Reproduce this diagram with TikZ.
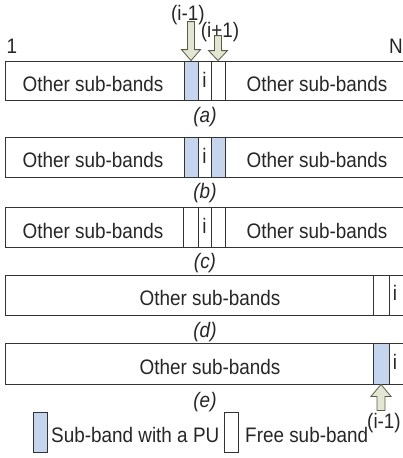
\documentclass[tikz,border=0pt]{standalone}
\usepackage{fontspec}
\setmainfont[FakeStretch=0.9]{Liberation Sans}
\usetikzlibrary{fit}
\definecolor{pu}{HTML}{C6D5EE}
\definecolor{arrowfill}{HTML}{E2E6D3}
\definecolor{arrowline}{HTML}{5A5D45}
\definecolor{edge}{HTML}{333333}
\begin{document}
\begin{tikzpicture}[x=1pt,y=-1pt,
  band/.style={draw=edge, line width=0.8pt, inner sep=0pt},
  freecell/.style={band, fill=white},
  pucell/.style={band, fill=pu},
  lbl/.style={font=\fontsize{21}{24}\selectfont, inner sep=0pt, text=black!85},
  captext/.style={font=\fontsize{21}{24}\selectfont\itshape, inner sep=0pt, text=black!85},
  blockarrow/.style={fill=arrowfill, draw=arrowline, line width=0.8pt, line join=miter}]
\useasboundingbox (0,0) rectangle (403,458);
\clip (0,0) rectangle (403,458);

% band edge labels
\node[lbl] (one) at (12,46) {1};
\node[lbl] (bigN) at (396,46) {N};

% ---- row (a)
\node[band, fit={(5,61) (410,100)}] (rowa) {};
\node[pucell, fit={(184,61) (198,100)}] (apu) {};
\node[freecell, fit={(198,61) (211,100)}] (ai) {};
\node[freecell, fit={(211,61) (225,100)}] (afree) {};
\node[lbl, anchor=base] (atl) at (93,91) {Other sub-bands};
\node[lbl, anchor=base] (atr) at (317,91) {Other sub-bands};
\node[lbl, anchor=base] (ail) at (204.5,87) {i};
\node[captext] (capa) at (205,117) {(a)};

% arrows onto the neighbours of i
\coordinate (tipm) at (apu.north);
\coordinate (tipp) at (afree.north);
\draw[blockarrow] (tipm) -- ++(-9.5,-11) -- ++(6,0) -- ++(0,-28) -- ++(7,0) -- ++(0,28) -- ++(6,0) -- cycle;
\draw[blockarrow] (tipp) -- ++(-9.5,-10) -- ++(6,0) -- ++(0,-15) -- ++(7,0) -- ++(0,15) -- ++(6,0) -- cycle;
\node[lbl] (lm) at (188,15) {(i-1)};
\node[lbl] (lp) at (220,32) {(i+1)};

% ---- row (b)
\node[band, fit={(5,137) (410,177)}] (rowb) {};
\node[pucell, fit={(184,137) (198,177)}] (bpu1) {};
\node[freecell, fit={(198,137) (211,177)}] (bi) {};
\node[pucell, fit={(211,137) (225,177)}] (bpu2) {};
\node[lbl, anchor=base] (btl) at (93,167) {Other sub-bands};
\node[lbl, anchor=base] (btr) at (317,167) {Other sub-bands};
\node[lbl, anchor=base] (bil) at (204.5,163) {i};
\node[captext] (capb) at (205,193) {(b)};

% ---- row (c)
\node[band, fit={(5,207) (410,247)}] (rowc) {};
\node[freecell, fit={(183,207) (198,247)}] (cf1) {};
\node[freecell, fit={(198,207) (211,247)}] (ci) {};
\node[freecell, fit={(211,207) (225,247)}] (cf2) {};
\node[lbl, anchor=base] (ctl) at (93,238) {Other sub-bands};
\node[lbl, anchor=base] (ctr) at (317,238) {Other sub-bands};
\node[lbl, anchor=base] (cil) at (204.5,233) {i};
\node[captext] (capc) at (205,263) {(c)};

% ---- row (d)
\node[band, fit={(5,275) (410,315)}] (rowd) {};
\node[freecell, fit={(373,275) (389,315)}] (df) {};
\node[freecell, fit={(389,275) (410,315)}] (di) {};
\node[lbl, anchor=base] (dt) at (210,305) {Other sub-bands};
\node[lbl, anchor=base] (dil) at (395,300) {i};
\node[captext] (capd) at (205,332) {(d)};

% ---- row (e)
\node[band, fit={(5,343) (410,384)}] (rowe) {};
\node[pucell, fit={(373,343) (389,384)}] (epu) {};
\node[freecell, fit={(389,343) (410,384)}] (ei) {};
\draw[edge, line width=1.6pt] (epu.north east) -- (epu.south east);
\node[lbl, anchor=base] (et) at (210,374) {Other sub-bands};
\node[lbl, anchor=base] (eil) at (395,369) {i};
\node[captext] (cape) at (205,402) {(e)};

% arrow up onto sub-band i-1
\coordinate (tipe) at (epu.south);
\draw[blockarrow] (tipe) -- ++(-10,12) -- ++(6,0) -- ++(0,14) -- ++(8,0) -- ++(0,-14) -- ++(6,0) -- cycle;
\node[lbl] (le) at (384,423) {(i-1)};

% ---- legend
\node[pucell, fit={(33,412) (47,452)}] (keypu) {};
\node[lbl, anchor=base west] (keyputxt) at (51,442) {Sub-band with a PU};
\node[freecell, fit={(224,412) (238,452)}] (keyfree) {};
\node[lbl, anchor=base west] (keyfreetxt) at (245,442) {Free sub-band};
\end{tikzpicture}
\end{document}
